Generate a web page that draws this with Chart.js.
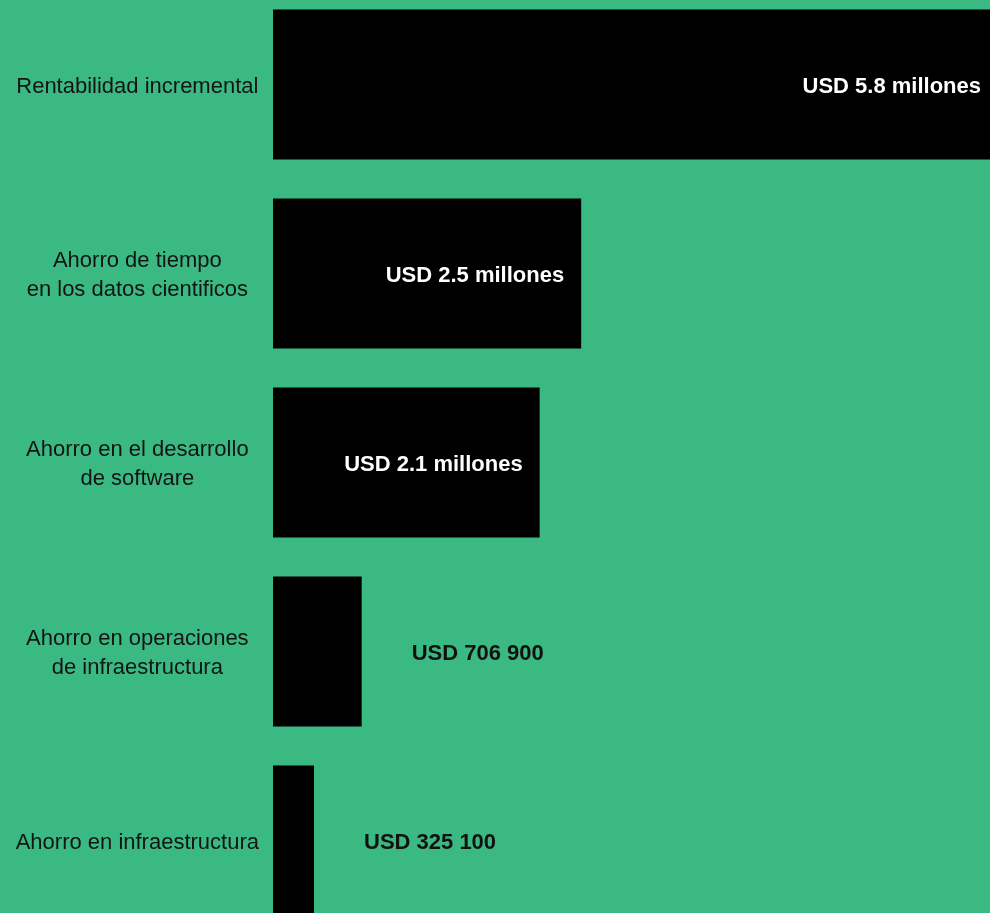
<!DOCTYPE html>
<html lang="es">
<head>
<meta charset="utf-8">
<title>Ahorros</title>
<script src="https://cdn.jsdelivr.net/npm/chart.js@4/dist/chart.umd.min.js"></script>
<style>
    html, body { margin: 0; padding: 0; background: #3bb982; overflow: hidden; }
    #frame { position: relative; width: 990px; height: 913px; overflow: hidden; }
    #holder { position: absolute; left: 0; top: -10px; width: 990px; height: 945px; }
</style>
</head>
<body>
<div id="frame">
    <div id="holder"><canvas id="savingsChart"></canvas></div>
</div>
<script>
// categories (multi-line labels), bar lengths in millions of USD as drawn, and the printed value texts
const categories = [
    'Rentabilidad incremental',
    ['Ahorro de tiempo', 'en los datos cientificos'],
    ['Ahorro en el desarrollo', 'de software'],
    ['Ahorro en operaciones', 'de infraestructura'],
    'Ahorro en infraestructura'
];
const values = [5.8, 2.45, 2.12, 0.705, 0.326];
const valueLabels = ['USD 5.8 millones', 'USD 2.5 millones', 'USD 2.1 millones', 'USD 706 900', 'USD 325 100'];
const xMax = 5.7;

const FONT = '"Liberation Sans", Arial, Helvetica, sans-serif';

// draws the value text at the end of each bar, inside when it fits
const valueLabelPlugin = {
    id: 'valueLabels',
    afterDatasetsDraw(chart) {
        const ctx = chart.ctx;
        const area = chart.chartArea;
        const meta = chart.getDatasetMeta(0);
        ctx.save();
        ctx.font = 'bold 22px ' + FONT;
        ctx.textBaseline = 'middle';
        meta.data.forEach(function(bar, i) {
            const text = valueLabels[i];
            const w = ctx.measureText(text).width;
            const barWidth = bar.x - bar.base;
            if (barWidth > w + 40) {
                ctx.fillStyle = '#ffffff';
                ctx.textAlign = 'right';
                ctx.fillText(text, Math.min(bar.x - 17, area.right - 9), bar.y + 2);
            } else {
                ctx.fillStyle = '#111111';
                ctx.textAlign = 'left';
                ctx.fillText(text, bar.x + 50, bar.y + 2);
            }
        });
        ctx.restore();
    }
};

function initializeSavingsChart() {
    const ctx = document.getElementById('savingsChart');
    if (!ctx) return;

    new Chart(ctx, {
        type: 'bar',
        data: {
            labels: categories,
            datasets: [{
                data: values,
                backgroundColor: '#000000',
                borderWidth: 0,
                barPercentage: 0.794,
                categoryPercentage: 1
            }]
        },
        options: {
            indexAxis: 'y',
            responsive: true,
            maintainAspectRatio: false,
            animation: false,
            layout: { padding: 0 },
            plugins: {
                legend: { display: false },
                tooltip: { enabled: false }
            },
            scales: {
                x: {
                    display: false,
                    min: 0,
                    max: xMax
                },
                y: {
                    grid: { display: false },
                    border: { display: false },
                    afterFit: function(scale) {
                        scale.width = 273;
                        scale.paddingTop = 0;
                        scale.paddingBottom = 0;
                    },
                    ticks: {
                        crossAlign: 'center',
                        padding: 6,
                        labelOffset: 2,
                        color: '#141414',
                        font: { family: FONT, size: 22, lineHeight: 1.28 }
                    }
                }
            }
        },
        plugins: [valueLabelPlugin]
    });
}

document.addEventListener('DOMContentLoaded', function() {
    initializeSavingsChart();
});
</script>
</body>
</html>
